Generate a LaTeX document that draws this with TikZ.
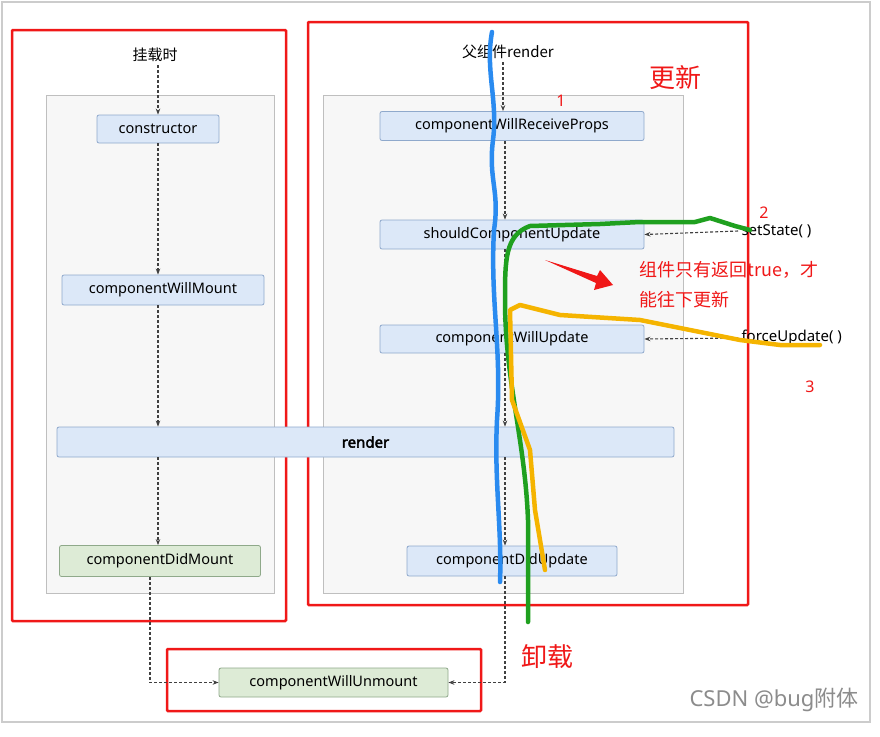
\documentclass[tikz,border=0pt]{standalone}
\usepackage{fontspec}
\setmainfont{Noto Sans}
\newfontfamily\cjk{Noto Sans CJK SC}
\newfontfamily\bfake{Noto Sans}[FakeBold=2.5]
\usetikzlibrary{arrows.meta}
\definecolor{nb}{HTML}{DCE8F8}\definecolor{nbd}{HTML}{8FA9CC}
\definecolor{ng}{HTML}{DDEBD6}\definecolor{ngd}{HTML}{8FA98A}
\definecolor{rd}{HTML}{F01818}\definecolor{bl}{HTML}{2A8BF0}
\definecolor{gr}{HTML}{1FA01F}\definecolor{og}{HTML}{F5B400}
\begin{document}
\begin{tikzpicture}[x=1pt,y=-1pt,
 box/.style={draw=nbd,fill=nb,rounded corners=2pt,font=\fontsize{14.5}{17}\selectfont,inner sep=0pt,line width=0.8pt},
 gbox/.style={box,draw=ngd,fill=ng},
 panel/.style={draw=black!25,fill=black!3,line width=0.8pt},
 red/.style={draw=rd,line width=2.5pt,rounded corners=1pt},
 da/.style={dashed,dash pattern=on 3pt off 2pt,line width=1.1pt,black!75,-{Stealth[length=6pt]}},
 free/.style={line width=4.5pt,line cap=round,line join=round},
 lab/.style={font=\fontsize{15}{17}\selectfont},
 rt/.style={text=rd,font=\fontsize{18}{20}\selectfont}]
\useasboundingbox (0,0) rectangle (880,736);
\fill[white] (0,0) rectangle (880,736);
\draw[black!20,line width=1.5pt] (2,2) rectangle (870,722);
\draw[panel] (46,95) rectangle (274,593);
\draw[panel] (323,95) rectangle (683,593);
\draw[red] (12,30) rectangle (286,621);
\draw[red] (308,22) rectangle (748,605);
\draw[red] (167,649) rectangle (481,711);
\node[lab] (mt) at (155,55) {\cjk 挂载时};
\node[lab] (pr) at (508,52) {\cjk 父组件render};
\node[box,minimum width=122pt,minimum height=28pt] (c) at (158,129) {constructor};
\node[box,minimum width=202pt,minimum height=30pt] (wm) at (163,290) {componentWillMount};
\node[gbox,minimum width=201pt,minimum height=31pt] (dm) at (160,561) {componentDidMount};
\node[box,minimum width=617pt,minimum height=30pt,font=\fontsize{15}{17}\bfake] (r) at (365.5,442) {render};
\node[box,minimum width=264pt,minimum height=29pt] (rp) at (512,126) {componentWillReceiveProps};
\node[box,minimum width=264pt,minimum height=29pt] (sc) at (512,234.5) {shouldComponentUpdate};
\node[box,minimum width=264pt,minimum height=28pt] (wu) at (512,339) {componentWillUpdate};
\node[box,minimum width=210pt,minimum height=30pt] (du) at (512,561) {componentDidUpdate};
\node[gbox,minimum width=229pt,minimum height=29pt] (un) at (333.5,682.5) {componentWillUnmount};
\node[lab,anchor=west] (ss) at (738,231) {setState( )};
\node[lab,anchor=west] (fu) at (738,338) {forceUpdate( )};
\draw[da] (mt.south -| c.north) -- (c);
\draw[da] (c) -- (c|-wm.north);
\draw[da] (c|-wm.south) -- (c|-r.north);
\draw[da] (c|-r.south) -- (c|-dm.north);
\draw[da] (dm.south -| 150,0) |- (un.west);
\draw[da] (pr.south -| 503,0) -- (503,0|-rp.north);
\draw[da] (505,0|-rp.south) -- (505,0|-sc.north);
\draw[da] (505,0|-sc.south) -- (505,0|-wu.north);
\draw[da] (505,0|-wu.south) -- (505,0|-r.north);
\draw[da] (505,0|-r.south) -- (505,0|-du.north);
\draw[da] (505,0|-du.south) |- (un.east);
\draw[da] (ss.west) -- (sc.east);
\draw[da] (fu.west) -- (wu.east);
% freehand
\draw[free,bl] (492,32) .. controls (485,70) and (498,100) .. (493,140) .. controls (488,180) and (500,190) .. (494,230) .. controls (490,300) and (502,350) .. (497,420) .. controls (494,480) and (502,530) .. (500,582);
\draw[free,gr] (750,230) -- (735,226) -- (710,218) -- (695,222) -- (640,222) -- (600,224) -- (530,226) .. controls (505,235) and (505,260) .. (505,300) .. controls (505,380) and (525,440) .. (528,520) -- (528,622);
\draw[free,og] (820,345) -- (780,345) -- (740,340) -- (640,320) -- (560,315) -- (520,305) -- (510,310) -- (512,400) -- (530,450) -- (535,510) -- (545,570);
% annotations
\node[rt,font=\fontsize{26}{28}\selectfont] (gx) at (675,78) {\cjk 更新};
\node[rt,font=\fontsize{26}{28}\selectfont] (xz) at (547,657) {\cjk 卸载};
\node[rt,font=\fontsize{16}{18}\selectfont] (n1) at (561,101) {1};
\node[rt,font=\fontsize{16}{18}\selectfont] (n2) at (764,213) {2};
\node[rt,font=\fontsize{16}{18}\selectfont] (n3) at (810,387) {3};
\node[rt,anchor=west,align=left,font=\fontsize{18}{30}\selectfont\cjk] (tt) at (636,285) {组件只有返回true，才\\能往下更新};
\fill[rd] (545,260) -- (597,276) -- (600,270) -- (613,285) -- (594,290) -- (596,283) -- cycle;
\node[text=black!45,anchor=east,font=\fontsize{22}{24}\selectfont] (wm2) at (862,700) {CSDN @bug{\cjk 附体}};
\end{tikzpicture}
\end{document}
